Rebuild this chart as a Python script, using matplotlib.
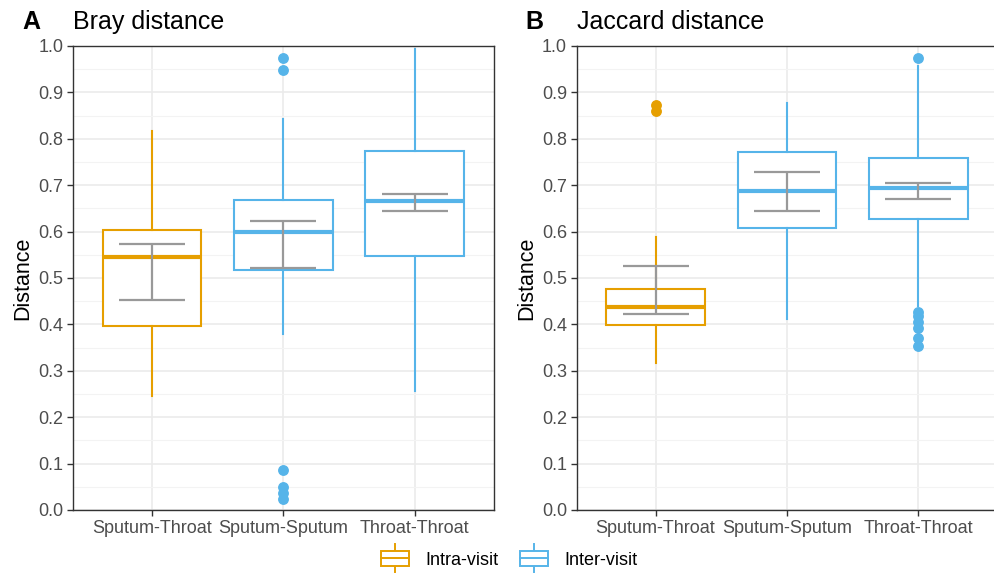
import matplotlib
matplotlib.use("Agg")
import matplotlib.pyplot as plt
from matplotlib.legend_handler import HandlerBase
from matplotlib.patches import Rectangle
from matplotlib.lines import Line2D
from matplotlib.ticker import MultipleLocator

plt.rcParams['font.family'] = ['Liberation Sans', 'DejaVu Sans']

categories = ["Sputum-Throat", "Sputum-Sputum", "Throat-Throat"]
groups = ["Intra-visit", "Inter-visit", "Inter-visit"]
group_colors = {"Intra-visit": "#E69F00", "Inter-visit": "#56B4E9"}

# Panel A: Bray distance
bray_q1 = [0.397, 0.517, 0.548]
bray_med = [0.546, 0.599, 0.666]
bray_q3 = [0.603, 0.668, 0.774]
bray_whislo = [0.245, 0.379, 0.256]
bray_whishi = [0.817, 0.843, 0.993]
bray_fliers = [[], [0.975, 0.948, 0.086, 0.050, 0.037, 0.024], []]
bray_err_lo = [0.452, 0.521, 0.644]
bray_err_hi = [0.573, 0.623, 0.682]

# Panel B: Jaccard distance
jac_q1 = [0.399, 0.608, 0.627]
jac_med = [0.438, 0.688, 0.695]
jac_q3 = [0.476, 0.772, 0.759]
jac_whislo = [0.317, 0.411, 0.440]
jac_whishi = [0.588, 0.877, 0.956]
jac_fliers = [[0.873, 0.860], [], [0.975, 0.427, 0.418, 0.406, 0.392, 0.370, 0.353]]
jac_err_lo = [0.422, 0.645, 0.670]
jac_err_hi = [0.525, 0.728, 0.704]

yticks = [0.0, 0.1, 0.2, 0.3, 0.4, 0.5, 0.6, 0.7, 0.8, 0.9, 1.0]

W, H = 994, 575
fig = plt.figure(figsize=(W / 100, H / 100), dpi=100)

ax_a = fig.add_axes([73 / W, 65 / H, (493.5 - 73) / W, (510 - 46) / H])
ax_b = fig.add_axes([576.7 / W, 65 / H, (493.5 - 73) / W, (510 - 46) / H])

SPINE = "#333333"
GRID = "#EBEBEB"
GREY = "#999999"


def draw_panel(ax, q1, med, q3, wlo, whi, fliers, elo, ehi, letter, title):
    ax.set_facecolor("white")
    for i, cat in enumerate(categories):
        col = group_colors[groups[i]]
        stats = [dict(med=med[i], q1=q1[i], q3=q3[i], whislo=wlo[i],
                      whishi=whi[i], fliers=fliers[i], label=cat)]
        ax.bxp(stats, positions=[i], widths=0.75, showcaps=False,
               patch_artist=True, manage_ticks=False,
               boxprops=dict(facecolor="white", edgecolor=col, linewidth=1.5),
               medianprops=dict(color=col, linewidth=3.0, solid_capstyle="butt"),
               whiskerprops=dict(color=col, linewidth=1.5),
               flierprops=dict(marker="o", markerfacecolor=col,
                               markeredgecolor=col, markersize=6.8),
               zorder=3)
        mid = (elo[i] + ehi[i]) / 2
        ax.errorbar([i], [mid], yerr=[[mid - elo[i]], [ehi[i] - mid]],
                    fmt="none", ecolor=GREY, elinewidth=1.6, capsize=23.8,
                    capthick=1.6, zorder=4)
    ax.set_xlim(-0.6, 2.6)
    ax.set_ylim(0, 1.0)
    ax.set_xticks(range(len(categories)))
    ax.set_xticklabels(categories, fontsize=13, color="#4D4D4D")
    ax.set_yticks(yticks)
    ax.set_yticklabels([f"{v:.1f}" for v in yticks], fontsize=13, color="#4D4D4D")
    ax.yaxis.set_minor_locator(MultipleLocator(0.05))
    ax.tick_params(axis="both", which="major", length=4, width=1, color=SPINE, pad=3)
    ax.tick_params(axis="y", which="minor", length=0)
    ax.grid(True, which="major", axis="both", color=GRID, linewidth=1.2, zorder=0)
    ax.grid(True, which="minor", axis="y", color="#F3F3F3", linewidth=0.8, zorder=0)
    ax.set_axisbelow(True)
    for sp in ax.spines.values():
        sp.set_color(SPINE)
        sp.set_linewidth(1.0)
    ax.set_ylabel("Distance", fontsize=15.5, labelpad=3.5)
    ax.set_title(title, fontsize=18, loc="left", pad=12)
    ax.text(-0.121, 1.0366, letter, transform=ax.transAxes, fontsize=18,
            fontweight="bold", ha="left", va="baseline")


draw_panel(ax_a, bray_q1, bray_med, bray_q3, bray_whislo, bray_whishi,
           bray_fliers, bray_err_lo, bray_err_hi, "A", "Bray distance")
draw_panel(ax_b, jac_q1, jac_med, jac_q3, jac_whislo, jac_whishi,
           jac_fliers, jac_err_lo, jac_err_hi, "B", "Jaccard distance")


class BoxHandler(HandlerBase):
    def __init__(self, color):
        super().__init__()
        self.color = color

    def create_artists(self, legend, orig_handle, xdescent, ydescent,
                       width, height, fontsize, trans):
        c = self.color
        x0, x1 = -xdescent, -xdescent + width
        xm = (x0 + x1) / 2
        y0 = -ydescent - height * 0.6
        y1 = -ydescent + height * 1.6
        ym = (y0 + y1) / 2
        bh = (y1 - y0) * 0.54
        rect = Rectangle((x0, ym - bh / 2), width, bh, facecolor="white",
                         edgecolor=c, linewidth=1.4, transform=trans)
        wl = Line2D([xm, xm], [y0, ym - bh / 2], color=c, linewidth=1.4, transform=trans)
        wh = Line2D([xm, xm], [ym + bh / 2, y1], color=c, linewidth=1.4, transform=trans)
        ml = Line2D([x0, x1], [ym, ym], color=c, linewidth=1.4, transform=trans)
        return [wl, wh, rect, ml]


h_intra = Rectangle((0, 0), 1, 1)
h_inter = Rectangle((0, 0), 1, 1)
fig.legend([h_intra, h_inter], ["Intra-visit", "Inter-visit"],
           handler_map={h_intra: BoxHandler(group_colors["Intra-visit"]),
                        h_inter: BoxHandler(group_colors["Inter-visit"])},
           loc="center", bbox_to_anchor=(0.512, 0.026), ncol=2, frameon=False,
           fontsize=13, handlelength=1.55, handletextpad=0.9, columnspacing=1.2)

fig.savefig("out.png", dpi=100, facecolor="white")
